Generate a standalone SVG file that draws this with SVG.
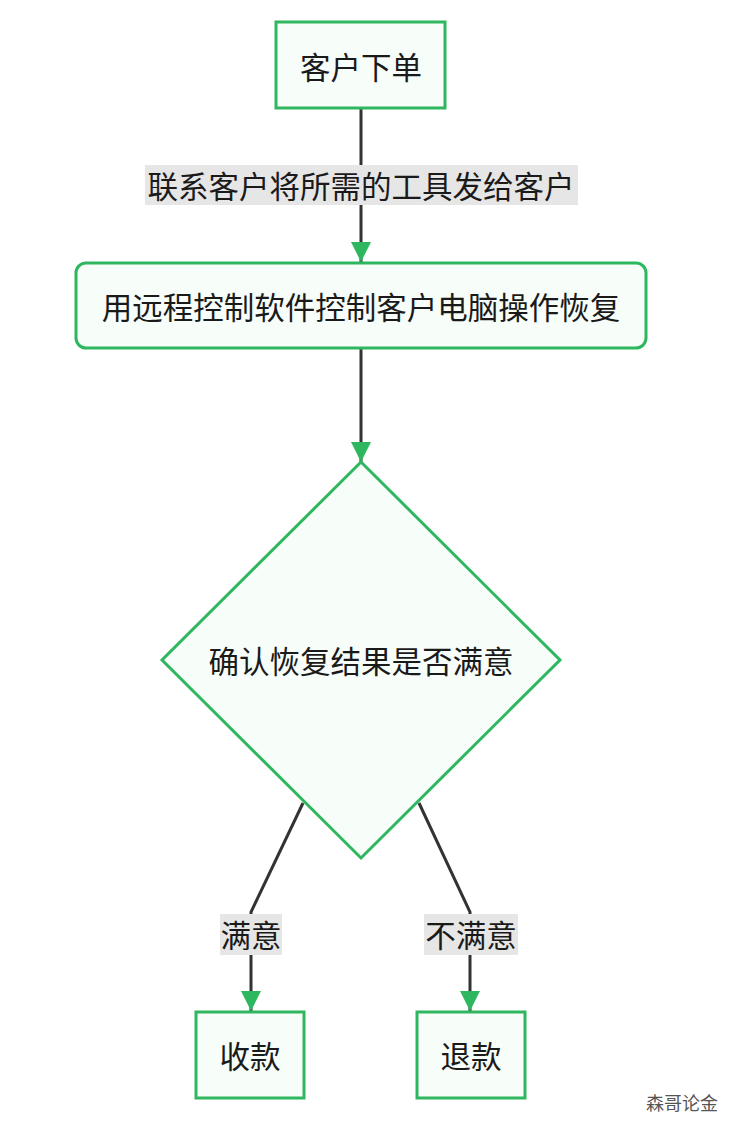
<svg xmlns="http://www.w3.org/2000/svg" width="736" height="1136" viewBox="0 0 736 1136">
<style>
.n{fill:#f7fdf8;stroke:#2fb75f;stroke-width:3}
.t{font-family:"Noto Sans CJK SC",sans-serif;font-size:30.5px;fill:#1a1a1a;text-anchor:middle;dominant-baseline:central}
.e{stroke:#333;stroke-width:3;fill:none}
.lb{fill:#e6e6e6}
</style>
<defs>
<marker id="b" viewBox="0 0 20 20" refX="20" refY="10" markerWidth="20" markerHeight="20" orient="auto" markerUnits="userSpaceOnUse"><path d="M0,0L20,10L0,20z" fill="#2fb75f"/></marker></defs>
<rect width="736" height="1136" fill="#fff"/>
<g id="edges">
<path class="e" d="M361,108V262" marker-end="url(#b)"/>
<rect class="lb" x="145" y="165" width="433" height="40"/>
<text class="t" x="361" y="185">联系客户将所需的工具发给客户</text>
<path class="e" d="M361,348V462" marker-end="url(#b)"/>
<path class="e" d="M303,803L251,912V1011" marker-end="url(#b)"/>
<rect class="lb" x="220" y="914" width="62" height="41"/>
<text class="t" x="251" y="934">满意</text>
<path class="e" d="M419,803L470,912V1011" marker-end="url(#b)"/>
<rect class="lb" x="424" y="914" width="94" height="41"/>
<text class="t" x="471" y="934">不满意</text>
</g>
<g id="n1"><rect class="n" x="276" y="22" width="169" height="86"/><text class="t" x="361" y="66">客户下单</text></g>
<g id="n2"><rect class="n" x="76" y="263" width="570" height="85" rx="10"/><text class="t" x="361" y="306">用远程控制软件控制客户电脑操作恢复</text></g>
<g id="n3"><path class="n" d="M361,462L560,660L361,858L162,660Z"/><text class="t" x="361" y="660">确认恢复结果是否满意</text></g>
<g id="n4"><rect class="n" x="196" y="1012" width="108" height="86"/><text class="t" x="250" y="1055">收款</text></g>
<g id="n5"><rect class="n" x="417" y="1012" width="108" height="86"/><text class="t" x="471" y="1055">退款</text></g>
<text x="646" y="1110" style="font-family:'Noto Sans CJK SC',sans-serif;font-size:18px;fill:#555">森哥论金</text>
</svg>
